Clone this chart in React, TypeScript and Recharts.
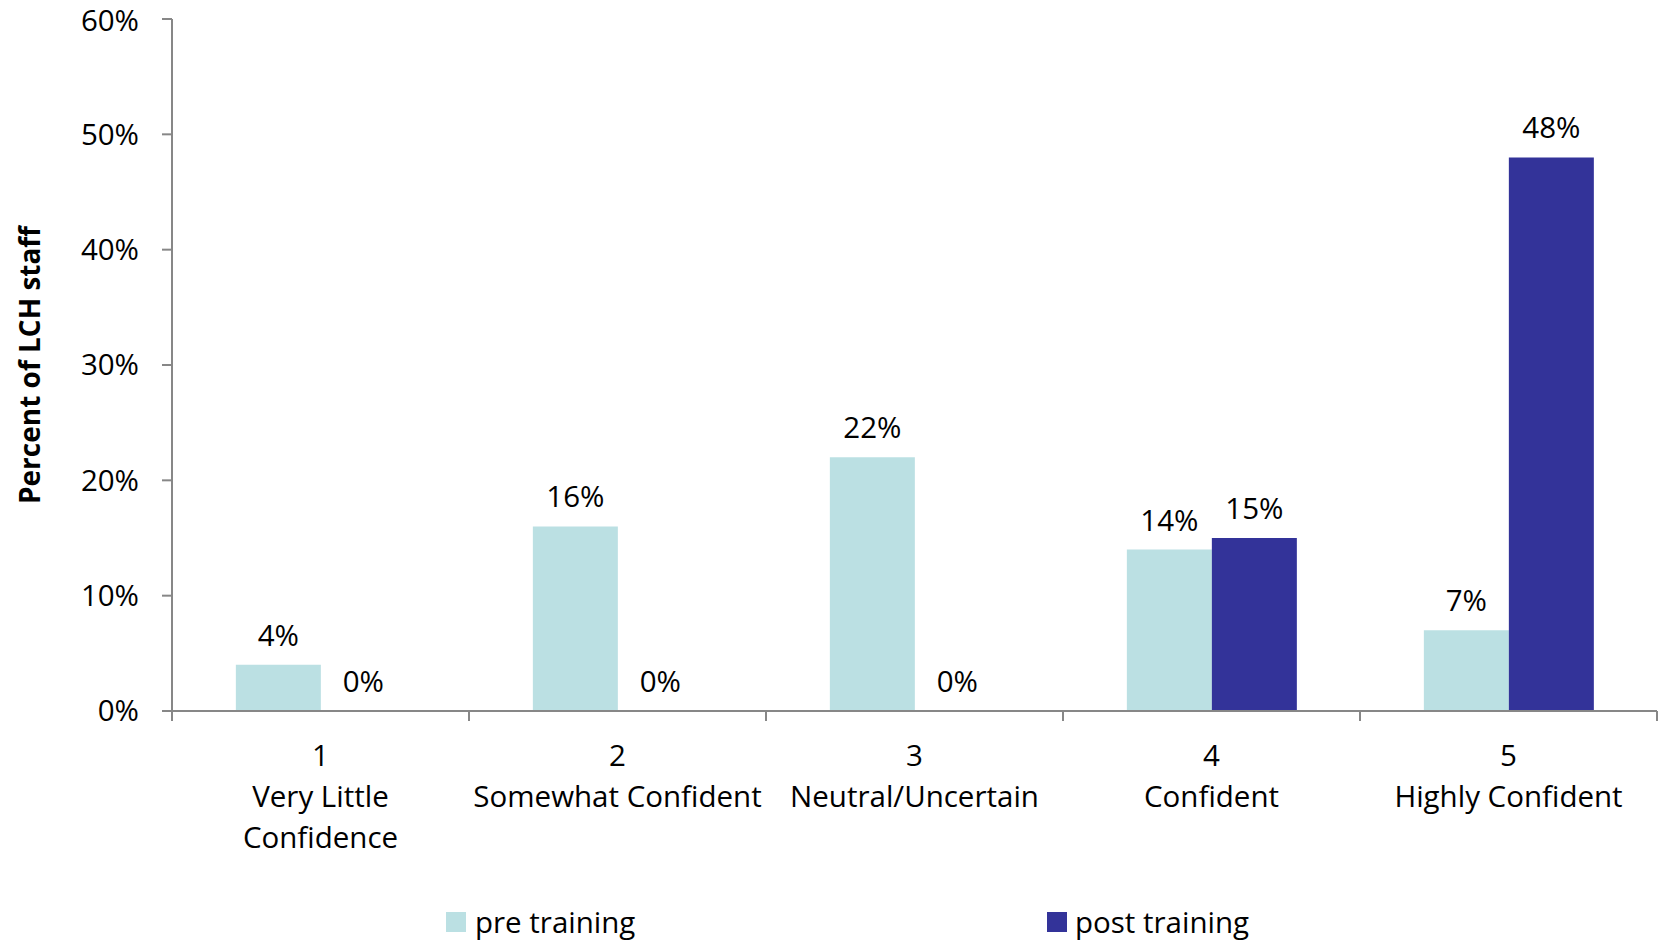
import React from "react";
import { BarChart, Bar, XAxis, YAxis, LabelList, Legend } from "recharts";

const categoryNumbers = ["1", "2", "3", "4", "5"];
const categoryNames = [
  ["Very Little", "Confidence"],
  ["Somewhat Confident"],
  ["Neutral/Uncertain"],
  ["Confident"],
  ["Highly Confident"],
];
const preTraining = [4, 16, 22, 14, 7];
const postTraining = [0, 0, 0, 15, 48];
const yTicks = [0, 10, 20, 30, 40, 50, 60];

const PRE_COLOR = "#BBE0E3";
const POST_COLOR = "#333399";
const AXIS_COLOR = "#878787";
const FONT = "'Open Sans', 'Noto Sans', sans-serif";
const FS = 29.5;

const data = categoryNumbers.map((c, i) => ({
  cat: c,
  pre: preTraining[i],
  post: postTraining[i],
}));

const XTick = (props: any) => {
  const { x, y, payload, index } = props;
  const half = payload.offset || 0;
  const axisY = y - 10;
  const lines = [categoryNumbers[index], ...categoryNames[index]];
  return (
    <g>
      <line x1={x - half} x2={x - half} y1={axisY} y2={axisY + 10} stroke={AXIS_COLOR} strokeWidth={2} />
      {index === categoryNumbers.length - 1 && (
        <line x1={x + half} x2={x + half} y1={axisY} y2={axisY + 10} stroke={AXIS_COLOR} strokeWidth={2} />
      )}
      {lines.map((l, k) => (
        <text
          key={k}
          x={x}
          y={axisY + 55 + k * 41}
          textAnchor="middle"
          fontSize={FS}
          fontFamily={FONT}
          fill="#000"
        >
          {l}
        </text>
      ))}
    </g>
  );
};

const LegendContent = () => (
  <div style={{ position: "relative", width: 1658, height: 36, fontFamily: FONT, fontSize: FS, color: "#000" }}>
    <div style={{ position: "absolute", left: 446, top: 8, width: 20, height: 20, background: PRE_COLOR }} />
    <div style={{ position: "absolute", left: 475, top: -2, lineHeight: "40px", whiteSpace: "nowrap" }}>pre training</div>
    <div style={{ position: "absolute", left: 1047, top: 8, width: 20, height: 20, background: POST_COLOR }} />
    <div style={{ position: "absolute", left: 1075, top: -2, lineHeight: "40px", whiteSpace: "nowrap" }}>post training</div>
  </div>
);

const YLabel = (props: any) => {
  const vb = props.viewBox || { x: 0, y: 0, height: 0 };
  const cx = 29;
  const cy = vb.y + vb.height / 2;
  return (
    <text
      x={cx}
      y={cy}
      transform={`rotate(-90, ${cx}, ${cy})`}
      textAnchor="middle"
      dominantBaseline="central"
      fontSize={28}
      fontWeight="bold"
      fontFamily={FONT}
      fill="#000"
    >
      Percent of LCH staff
    </text>
  );
};

const labelStyle = { fontSize: FS, fontFamily: FONT, fill: "#000" };

export default function App() {
  return (
    <div style={{ position: "absolute", left: 0, top: 0, width: 1658, height: 940, background: "#fff" }}>
      <BarChart
        width={1658}
        height={940}
        data={data}
        margin={{ top: 19, right: 1, bottom: 0, left: 0 }}
        barCategoryGap="21.5%"
        barGap={0}
      >
        <XAxis
          dataKey="cat"
          height={193}
          tick={<XTick />}
          tickLine={false}
          tickSize={0}
          tickMargin={10}
          axisLine={{ stroke: AXIS_COLOR, strokeWidth: 2 }}
          interval={0}
        />
        <YAxis
          width={172}
          domain={[0, 60]}
          ticks={yTicks}
          tickFormatter={(v: number) => `${v}%`}
          tick={{ fontSize: FS, fontFamily: FONT, fill: "#000" }}
          tickSize={10}
          tickMargin={23}
          tickLine={{ stroke: AXIS_COLOR, strokeWidth: 2 }}
          axisLine={{ stroke: AXIS_COLOR, strokeWidth: 2 }}
          label={<YLabel />}
        />
        <Legend
          verticalAlign="bottom"
          height={36}
          content={<LegendContent />}
          wrapperStyle={{ left: 0, width: 1658 }}
        />
        <Bar dataKey="pre" name="pre training" fill={PRE_COLOR} isAnimationActive={false}>
          <LabelList
            dataKey="pre"
            position="top"
            offset={19}
            formatter={(v: any) => `${v}%`}
            style={labelStyle}
          />
        </Bar>
        <Bar
          dataKey="post"
          name="post training"
          fill={POST_COLOR}
          isAnimationActive={false}
          minPointSize={(v: any) => (v === 0 ? 0.01 : 0)}
        >
          <LabelList
            dataKey="post"
            position="top"
            offset={19}
            formatter={(v: any) => `${v}%`}
            style={labelStyle}
          />
        </Bar>
      </BarChart>
    </div>
  );
}
